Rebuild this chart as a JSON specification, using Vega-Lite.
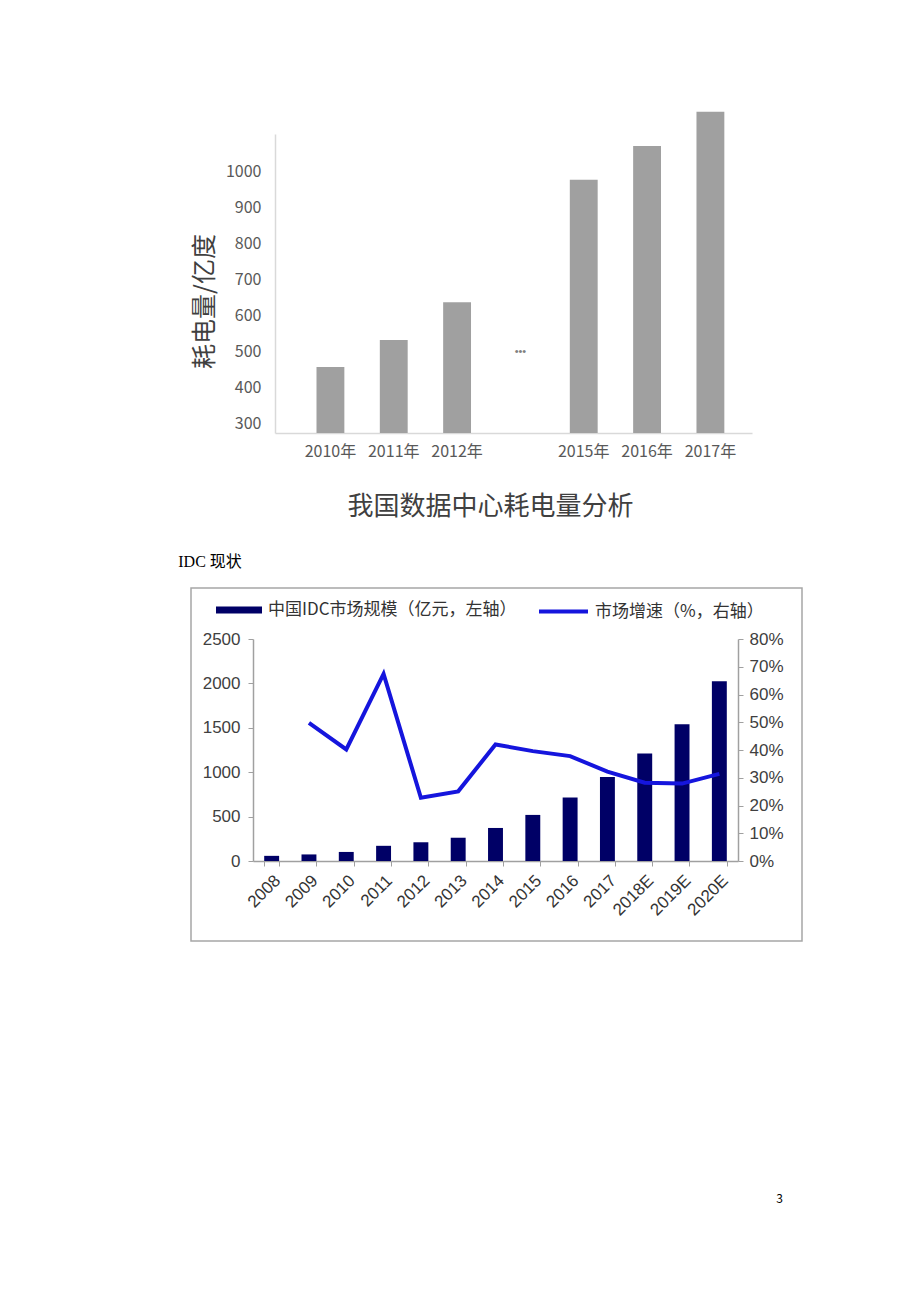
{
  "$schema": "https://vega.github.io/schema/vega-lite/v6.json",
  "background": "white",
  "padding": {"left": 177, "top": 111, "right": 0, "bottom": 0},
  "spacing": 33,
  "config": {
    "font": "Noto Sans CJK SC",
    "view": {"stroke": null}
  },
  "vconcat": [
    {
      "width": 561,
      "height": 299,
      "title": {"text": "我国数据中心耗电量分析", "orient": "bottom", "anchor": "middle", "fontSize": 26, "fontWeight": "normal", "color": "#404040", "offset": 35, "dx": 19},
      "data": {"values": [
        {"year": "2010年", "power": 458},
        {"year": "2011年", "power": 533},
        {"year": "2012年", "power": 638},
        {"year": "…", "power": null, "note": "•••"},
        {"year": "2015年", "power": 978},
        {"year": "2016年", "power": 1072},
        {"year": "2017年", "power": 1167}
      ]},
      "layer": [
        {
          "mark": {"type": "bar", "color": "#a0a0a0", "clip": false},
          "encoding": {
            "x": {"field": "year", "type": "nominal", "sort": null,
              "scale": {"domain": ["2010年", "2011年", "2012年", "…", "2015年", "2016年", "2017年"], "range": [84, 561], "paddingInner": 0.56, "paddingOuter": 0.546, "align": 0.6},
              "axis": {"title": null, "domain": true, "domainColor": "#d9d9d9", "domainWidth": 1.5, "ticks": false, "labelAngle": 0, "labelFontSize": 16, "labelColor": "#595959", "labelPadding": 10,
                "labelExpr": "datum.value == '…' ? '' : datum.value"}},
            "y": {"field": "power", "type": "quantitative",
              "scale": {"domain": [275, 1105], "nice": false, "zero": false},
              "axis": {"offset": -84, "values": [300, 400, 500, 600, 700, 800, 900, 1000], "format": "d", "ticks": false, "grid": false, "labelFontSize": 16, "labelColor": "#595959", "labelPadding": 14, "domainColor": "#d9d9d9", "domainWidth": 1.5,
                "title": "耗电量/亿度", "titleFontSize": 25, "titleColor": "#404040", "titleFontWeight": "normal", "titlePadding": 8, "titleY": 167}},
            "y2": {"datum": 275}
          }
        },
        {
          "transform": [{"filter": "datum.note != null"}],
          "mark": {"type": "text", "font": "Liberation Sans", "fontSize": 11, "color": "#808080"},
          "encoding": {
            "x": {"field": "year", "type": "nominal", "sort": null},
            "y": {"datum": 500},
            "text": {"field": "note"}
          }
        }
      ]
    },
    {
      "width": 611,
      "height": 353,
      "view": {"stroke": "#a6a6a6", "strokeWidth": 1.5},
      "title": {"text": "IDC 现状", "orient": "top", "anchor": "start", "font": "Liberation Serif, Noto Sans CJK SC", "fontSize": 16, "fontWeight": "normal", "color": "#000000", "offset": 18, "dx": -12},
      "data": {"values": [
        {"year": "2008", "size": 58, "growth": null},
        {"year": "2009", "size": 74, "growth": 0.498},
        {"year": "2010", "size": 102, "growth": 0.402},
        {"year": "2011", "size": 171, "growth": 0.674},
        {"year": "2012", "size": 211, "growth": 0.228},
        {"year": "2013", "size": 262, "growth": 0.251},
        {"year": "2014", "size": 372, "growth": 0.42},
        {"year": "2015", "size": 519, "growth": 0.396},
        {"year": "2016", "size": 715, "growth": 0.378},
        {"year": "2017", "size": 946, "growth": 0.322},
        {"year": "2018E", "size": 1210, "growth": 0.282},
        {"year": "2019E", "size": 1540, "growth": 0.279},
        {"year": "2020E", "size": 2024, "growth": 0.314}
      ]},
      "layer": [
        {
          "mark": {"type": "bar"},
          "encoding": {
            "x": {"field": "year", "type": "nominal", "sort": null,
              "scale": {"range": [62, 547], "paddingInner": 0.6, "paddingOuter": 0.3},
              "axis": {"title": null, "offset": -80, "labelAngle": -45, "labelFont": "Liberation Sans", "labelFontSize": 17, "labelColor": "#333333", "labelPadding": 6,
                "domainColor": "#a0a0a0", "domainWidth": 1.5, "tickColor": "#a0a0a0", "tickSize": 5, "tickBand": "extent"}},
            "y": {"field": "size", "type": "quantitative",
              "scale": {"domain": [0, 2500], "range": [273, 51], "nice": false},
              "axis": {"orient": "left", "offset": -62, "values": [0, 500, 1000, 1500, 2000, 2500], "format": "d", "title": null, "grid": false,
                "labelFont": "Liberation Sans", "labelFontSize": 17, "labelColor": "#404040", "labelPadding": 8,
                "domainColor": "#a0a0a0", "domainWidth": 1.5, "tickColor": "#a0a0a0", "tickSize": 5}},
            "fill": {"datum": "中国IDC市场规模（亿元，左轴）", "type": "nominal",
              "scale": {"range": ["#000066"]},
              "legend": {"orient": "none", "legendX": 25, "legendY": 453, "title": null, "symbolType": "M-1,-0.15H1V0.15H-1Z", "symbolSize": 2116, "symbolStrokeWidth": 0,
                "labelFontSize": 17, "labelColor": "#333333", "labelOffset": 6, "labelLimit": 400}}
          }
        },
        {
          "mark": {"type": "line", "strokeWidth": 4},
          "encoding": {
            "x": {"field": "year", "type": "nominal", "sort": null},
            "y": {"field": "growth", "type": "quantitative",
              "scale": {"domain": [0, 0.8], "range": [273, 51], "nice": false},
              "axis": {"orient": "right", "offset": -64, "values": [0, 0.1, 0.2, 0.3, 0.4, 0.5, 0.6, 0.7, 0.8], "format": ".0%", "title": null, "grid": false,
                "labelFont": "Liberation Sans", "labelFontSize": 17, "labelColor": "#404040", "labelPadding": 6,
                "domainColor": "#a0a0a0", "domainWidth": 1.5, "tickColor": "#a0a0a0", "tickSize": 5}},
            "stroke": {"datum": "市场增速（%，右轴）", "type": "nominal",
              "scale": {"range": ["#1515dd"]},
              "legend": {"orient": "none", "legendX": 346, "legendY": 451, "title": null, "symbolType": "stroke", "symbolSize": 2401, "symbolStrokeWidth": 4,
                "labelFontSize": 17, "labelColor": "#333333", "labelOffset": 5, "labelLimit": 400}}
          }
        }
      ],
      "resolve": {"scale": {"y": "independent"}}
    },
    {
      "width": 592,
      "height": 200,
      "data": {"values": [{}]},
      "mark": {"type": "text", "text": ""},
      "encoding": {},
      "title": {"text": "3", "orient": "bottom", "anchor": "end", "fontSize": 12, "fontWeight": "normal", "color": "#000000", "offset": 19}
    }
  ]
}
